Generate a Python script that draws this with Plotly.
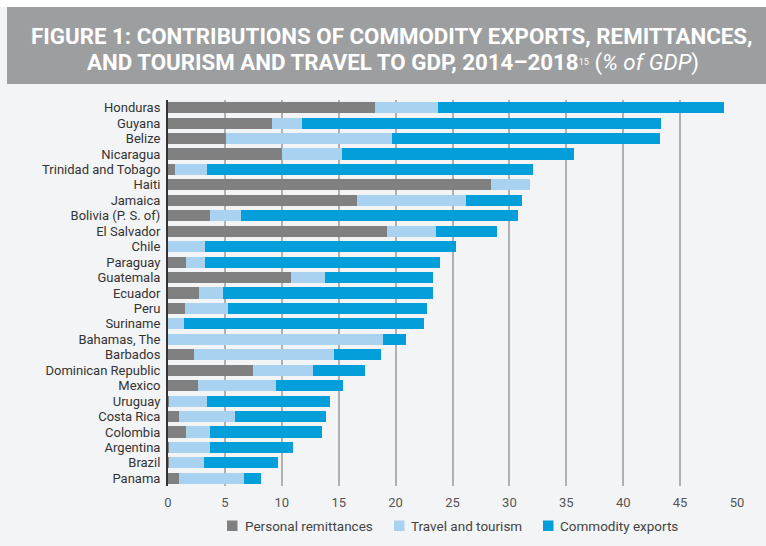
import plotly.graph_objects as go

countries = [
    "Honduras", "Guyana", "Belize", "Nicaragua", "Trinidad and Tobago", "Haiti",
    "Jamaica", "Bolivia (P. S. of)", "El Salvador", "Chile", "Paraguay",
    "Guatemala", "Ecuador", "Peru", "Suriname", "Bahamas, The", "Barbados",
    "Dominican Republic", "Mexico", "Uruguay", "Costa Rica", "Colombia",
    "Argentina", "Brazil", "Panama",
]

# Shares of GDP (%), 2014-2018 averages
remittances = [18.2, 9.1, 5.1, 10.0, 0.6, 28.4, 16.6, 3.7, 19.25, 0.0, 1.6,
               10.8, 2.7, 1.5, 0.0, 0.0, 2.3, 7.5, 2.6, 0.1, 1.0, 1.6, 0.1, 0.1, 1.0]
travel = [5.55, 2.7, 14.55, 5.3, 2.8, 3.4, 9.6, 2.7, 4.3, 3.26, 1.66,
          3.0, 2.15, 3.75, 1.4, 18.9, 12.3, 5.2, 6.9, 3.37, 4.9, 2.07, 3.63, 3.1, 5.66]
commodities = [25.15, 31.5, 23.55, 20.4, 28.7, 0.0, 4.9, 24.35, 5.35, 22.04, 20.64,
               9.45, 18.4, 17.55, 21.1, 2.0, 4.1, 4.6, 5.85, 10.8, 8.0, 9.83, 7.27, 6.5, 1.48]

x_ticks = list(range(0, 55, 5))

series = [
    ("Personal remittances", remittances, "#808080"),
    ("Travel and tourism", travel, "#a9d1f0"),
    ("Commodity exports", commodities, "#049fdb"),
]

fig = go.Figure()
for name, vals, color in series:
    fig.add_trace(go.Bar(
        y=countries, x=vals, name=name, orientation="h",
        marker=dict(color=color, line=dict(width=0)),
    ))

W, H = 766, 546
ml, mr, mt, mb = 168, 29, 100, 60

def px_x(p):
    return (p - ml) / (W - ml - mr)

def px_y(p):
    return 1 - (p - mt) / (H - mt - mb)

# page background strips and the grey title banner
fig.add_shape(type="rect", xref="paper", yref="paper",
              x0=px_x(0), x1=px_x(W), y0=px_y(7), y1=px_y(0),
              fillcolor="white", line=dict(width=0), layer="below")
fig.add_shape(type="rect", xref="paper", yref="paper",
              x0=px_x(7), x1=px_x(W), y0=px_y(84), y1=px_y(7),
              fillcolor="#9d9ea0", line=dict(width=0), layer="below")

fig.add_annotation(
    xref="paper", yref="paper", x=px_x(392), y=px_y(36),
    xanchor="center", yanchor="middle", showarrow=False,
    text="<b>FIGURE 1: CONTRIBUTIONS OF COMMODITY EXPORTS, REMITTANCES,</b>",
    font=dict(family="Roboto", size=22.3, color="white"),
)
fig.add_annotation(
    xref="paper", yref="paper", x=px_x(393), y=px_y(62),
    xanchor="center", yanchor="middle", showarrow=False,
    text=("<b>AND TOURISM AND TRAVEL TO GDP, 2014\u20132018</b>"
          "<span style='font-size:13px'><sup>15</sup></span> (<i>% of GDP</i>)"),
    font=dict(family="Roboto", size=22.3, color="white"),
)

# legend drawn as swatches plus labels
legend_pos = [(227, 243), (394, 409), (543, 558)]
for (sx, tx), (name, _, color) in zip(legend_pos, series):
    fig.add_shape(type="rect", xref="paper", yref="paper",
                  x0=px_x(sx), x1=px_x(sx + 10.5), y0=px_y(531), y1=px_y(520.5),
                  fillcolor=color, line=dict(width=0))
    fig.add_annotation(xref="paper", yref="paper", x=px_x(tx), y=px_y(525.5),
                       xanchor="left", yanchor="middle", showarrow=False, text=name,
                       font=dict(family="Roboto", size=13.5, color="#444444"))

fig.update_layout(
    width=W, height=H,
    margin=dict(l=ml, r=mr, t=mt, b=mb),
    barmode="stack", bargap=0.28,
    paper_bgcolor="#f3f4f6", plot_bgcolor="#f3f4f6",
    font=dict(family="Roboto", size=13, color="#333333"),
    showlegend=False,
    xaxis=dict(range=[0, 50], tickvals=x_ticks, showgrid=True, gridcolor="#b0b0b0",
               gridwidth=1.5, zeroline=False, showline=False,
               tickfont=dict(size=13, color="#555555"), ticks="", ticklabelstandoff=7),
    yaxis=dict(categoryorder="array", categoryarray=countries, autorange="reversed",
               tickmode="array", tickvals=countries, ticktext=countries,
               showgrid=False, showline=True, linecolor="#333333", linewidth=2,
               ticks="", tickfont=dict(size=13, color="#333333"), ticklabelstandoff=3),
)

fig.write_html("out.html")
